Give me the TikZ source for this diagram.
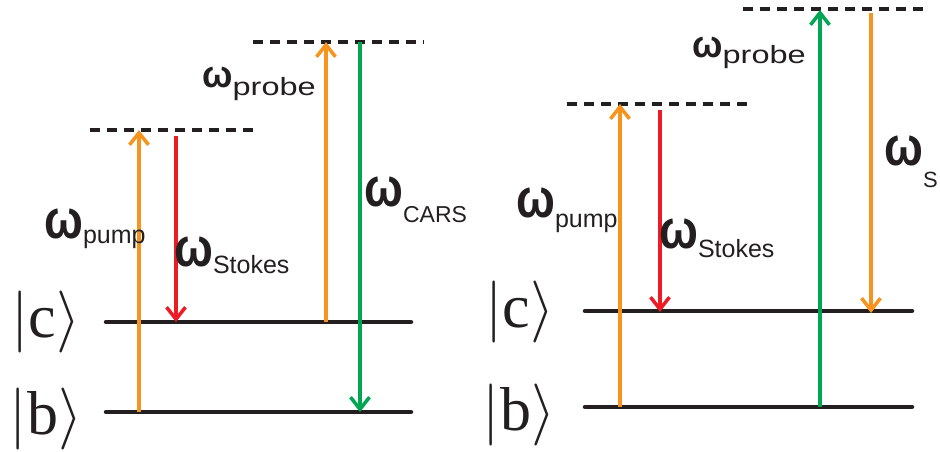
\RequirePackage{fix-cm}
\documentclass[tikz,border=0pt]{standalone}
\usepackage{fontspec}
\setmainfont{Liberation Sans}
\newfontfamily\ketfont{Liberation Serif}
\usepackage{graphicx}
\usetikzlibrary{arrows.meta}
\definecolor{levelblack}{RGB}{35,31,32}
\definecolor{beamorange}{RGB}{247,148,29}
\definecolor{beamred}{RGB}{237,28,36}
\definecolor{beamgreen}{RGB}{0,166,81}
\newcommand{\wsub}[3][7pt]{{\bfseries\scalebox{0.92}[1.1]{ω}}\raisebox{-#1}{\fontsize{#2}{#2}\selectfont #3}}
\newcommand{\wprobe}[1][6pt]{{\fontsize{36}{36}\selectfont\bfseries\scalebox{1.0}[1.05]{ω}}\raisebox{-#1}{\fontsize{25}{25}\selectfont\scalebox{1.3}[1]{probe}}}
\tikzset{
  level/.style={draw=levelblack,line width=4.5pt,line cap=round},
  virtual/.style={draw=levelblack,line width=4pt,dash pattern=on 10pt off 7pt},
  beam/.style={line width=3.5pt,-{Straight Barb[length=12pt,width=19pt]}},
  ket/.style={font=\fontsize{62}{62}\selectfont,inner sep=0pt,text=levelblack},
  wlabel/.style={anchor=base west,inner sep=0pt,text=levelblack,font=\fontsize{50}{50}\selectfont},
}
\begin{document}
\begin{tikzpicture}[x=1pt,y=-1pt]
  \useasboundingbox (0,0) rectangle (940,452);
  % left scheme: levels
  \coordinate (cL1) at (106,322);
  \coordinate (cL2) at (411,322);
  \coordinate (bL1) at (106,412);
  \coordinate (bL2) at (411,412);
  \draw[level] (cL1) -- (cL2);
  \draw[level] (bL1) -- (bL2);
  \coordinate (vL1) at (90,130);
  \coordinate (vL2) at (260,130);
  \coordinate (uL1) at (253,42);
  \coordinate (uL2) at (424,42);
  \draw[virtual] (vL1) -- (vL2);
  \draw[virtual] (uL1) -- (uL2);
  \node[ket] (kcL) at (46,322) {$|\hbox{\ketfont c}\rangle$};
  \node[ket] (kbL) at (46,419) {$|\hbox{\ketfont b}\rangle$};
  % left scheme: beams
  \coordinate (pumpL0) at (139,412);
  \coordinate (pumpL1) at (139,130);
  \coordinate (stokesL0) at (176,136);
  \coordinate (stokesL1) at (176,322);
  \coordinate (probeL0) at (326,322);
  \coordinate (probeL1) at (326,42);
  \coordinate (carsL0) at (360,42);
  \coordinate (carsL1) at (360,412);
  \draw[beam,beamorange] (pumpL0) -- (pumpL1);
  \draw[beam,beamred] (stokesL0) -- (stokesL1);
  \draw[beam,beamorange] (probeL0) -- (probeL1);
  \draw[beam,beamgreen] (carsL0) -- (carsL1);
  \node[wlabel] (wpumpL) at (44,238) {\wsub[5pt]{25}{pump}};
  \node[wlabel] (wstokesL) at (174,266) {\wsub{25}{Stokes}};
  \node[wlabel] (wprobeL) at (202,88) {\wprobe[8pt]};
  \node[wlabel] (wcarsL) at (364,206) {\wsub[16pt]{23}{CARS}};
  % right scheme: levels
  \coordinate (cR1) at (585,311);
  \coordinate (cR2) at (912,311);
  \coordinate (bR1) at (585,407);
  \coordinate (bR2) at (912,407);
  \draw[level] (cR1) -- (cR2);
  \draw[level] (bR1) -- (bR2);
  \coordinate (vR1) at (567,104);
  \coordinate (vR2) at (750,104);
  \coordinate (uR1) at (743,9);
  \coordinate (uR2) at (927,9);
  \draw[virtual] (vR1) -- (vR2);
  \draw[virtual] (uR1) -- (uR2);
  \node[ket] (kcR) at (520,312) {$|\hbox{\ketfont c}\rangle$};
  \node[ket] (kbR) at (519,415) {$|\hbox{\ketfont b}\rangle$};
  % right scheme: beams
  \coordinate (pumpR0) at (620,407);
  \coordinate (pumpR1) at (620,104);
  \coordinate (stokesR0) at (660,110);
  \coordinate (stokesR1) at (660,312);
  \coordinate (probeR0) at (820,407);
  \coordinate (probeR1) at (820,10);
  \coordinate (sR0) at (871,13);
  \coordinate (sR1) at (871,313);
  \draw[beam,beamorange] (pumpR0) -- (pumpR1);
  \draw[beam,beamred] (stokesR0) -- (stokesR1);
  \draw[beam,beamgreen] (probeR0) -- (probeR1);
  \draw[beam,beamorange] (sR0) -- (sR1);
  \node[wlabel] (wpumpR) at (516,217) {\wsub[10pt]{25}{pump}};
  \node[wlabel] (wstokesR) at (659,248) {\wsub[9pt]{25}{Stokes}};
  \node[wlabel] (wprobeR) at (692,58) {\wprobe};
  \node[wlabel] (wsR) at (884,165) {\wsub[22pt]{22}{S}};
\end{tikzpicture}
\end{document}
